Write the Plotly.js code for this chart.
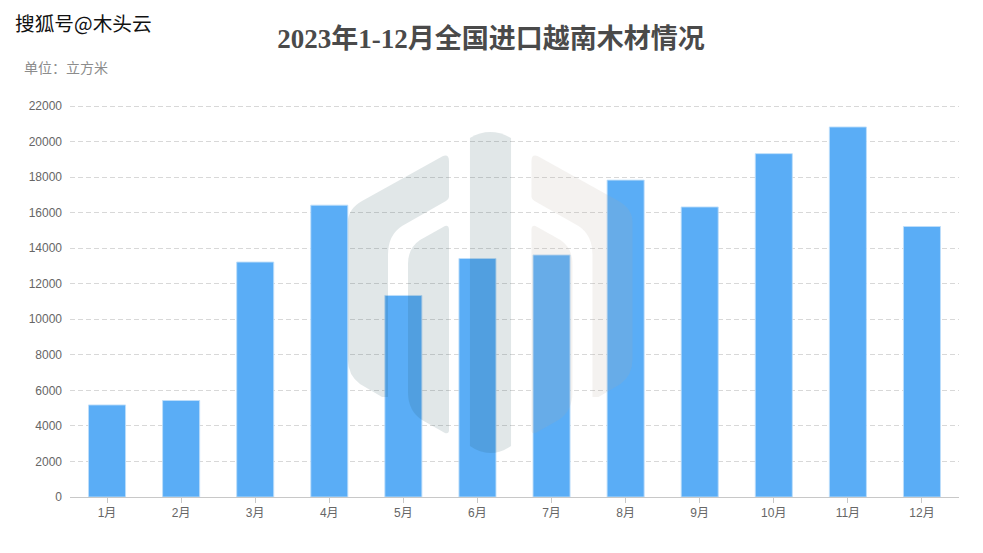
<!DOCTYPE html>
<html><head><meta charset="utf-8">
<script src="https://cdn.plot.ly/plotly-3.0.1.min.js"></script>
<style>html,body{margin:0;padding:0;background:#fff}</style></head>
<body><div id="chart" style="width:983px;height:553px"></div>
<script>
const categories = ["1月","2月","3月","4月","5月","6月","7月","8月","9月","10月","11月","12月"];
const volumes = [5180,5430,13220,16420,11340,13420,13620,17830,16320,19320,20820,15220];
const yTicks = [0,2000,4000,6000,8000,10000,12000,14000,16000,18000,20000,22000];
const chartTitle = "2023年1-12月全国进口越南木材情况";
const unitLabel = "单位：立方米";
const sourceLabel = "搜狐号@木头云";

const W = 983, H = 553, M = {l:70, r:24, t:105, b:56, pad:0};
const px = x => ((x - M.l) / (W - M.l - M.r)).toFixed(4);
const py = y => ((H - M.b - y) / (H - M.t - M.b)).toFixed(4);
const L = (x,y) => `L${px(x)},${py(y)}`;
const Q = (a,b,x,y) => `Q${px(a)},${py(b)} ${px(x)},${py(y)}`;
const S = (x,y) => `M${px(x)},${py(y)}`;

function leftOuter(f){ return S(f(443),156)+Q(f(449),154,f(449),161)+L(f(449),197)+Q(f(449),199,f(446),201)+L(f(402),226)
  +Q(f(388),235,f(388),255)+L(f(388),397)+L(f(382),397)+L(f(360),384)+Q(f(348),375,f(348),360)+L(f(348),222)+Q(f(348),209,f(362),201)+'Z'; }
function leftInner(f){ return S(f(445),226)+Q(f(449),225,f(449),230)+L(f(449),430)+Q(f(449),434,f(445),433)+L(f(422),420)
  +Q(f(408),411,f(408),392)+L(f(408),264)+Q(f(408),248,f(420),240)+'Z'; }
const id = x => x, mirror = x => 980.5 - x;
const centre = S(470,138)+Q(490,126,511,138)+L(511,446)+Q(490,460,470,446)+'Z';
const cool = 'rgba(20,70,80,0.13)', warm = 'rgba(180,170,155,0.15)';
const shape = (path,color) => ({type:'path', xref:'paper', yref:'paper', layer:'above', path, fillcolor:color, line:{width:0}});

Plotly.newPlot('chart', [{
  type:'bar', x:categories, y:volumes, width:0.5,
  marker:{color:'#5aadf6', line:{color:'rgba(190,222,250,0.9)', width:1}},
  hoverinfo:'x+y'
}], {
  width:W, height:H, margin:M, paper_bgcolor:'#fff', plot_bgcolor:'#fff', showlegend:false,
  font:{family:'"Liberation Sans","Noto Sans CJK SC",sans-serif', size:12, color:'#666'},
  title:{text:chartTitle, x:px(491), xanchor:'center', xref:'paper', y:0.93, yanchor:'middle',
    font:{family:'"Liberation Serif","Noto Sans CJK SC",serif', size:27, weight:700, color:'#4a4a4a'}},
  xaxis:{type:'category', categoryorder:'array', categoryarray:categories, range:[-0.5,11.5],
    showgrid:false, showline:true, linecolor:'#c8c8c8', linewidth:1, ticks:'outside', ticklen:5, tickcolor:'#c8c8c8', tickwidth:1,
    tickfont:{size:12,color:'#666'}, fixedrange:true},
  yaxis:{range:[0,22057], tickvals:yTicks, ticktext:yTicks.map(String), showgrid:true, gridcolor:'#d8d8d8', griddash:'5px,3px', gridwidth:1,
    zeroline:false, showline:false, ticks:'', ticklabelstandoff:7, tickfont:{size:12,color:'#666'}, fixedrange:true},
  shapes:[
    shape(leftOuter(id),cool), shape(leftInner(id),cool), shape(centre,cool),
    shape(leftOuter(mirror),warm), shape(leftInner(mirror),warm)
  ],
  annotations:[
    {text:unitLabel, xref:'paper', yref:'paper', x:px(22), y:py(68), xanchor:'left', yanchor:'middle', showarrow:false,
      font:{size:14,color:'#8c8c8c'}},
    {text:sourceLabel, xref:'paper', yref:'paper', x:px(13), y:py(22), xanchor:'left', yanchor:'middle', showarrow:false,
      font:{size:19.7,color:'#111', family:'"Noto Sans CJK SC",sans-serif', shadow:'1px 0 #fff,-1px 0 #fff,0 1px #fff,0 -1px #fff'}}
  ]
}, {displayModeBar:false, staticPlot:true});
</script></body></html>
